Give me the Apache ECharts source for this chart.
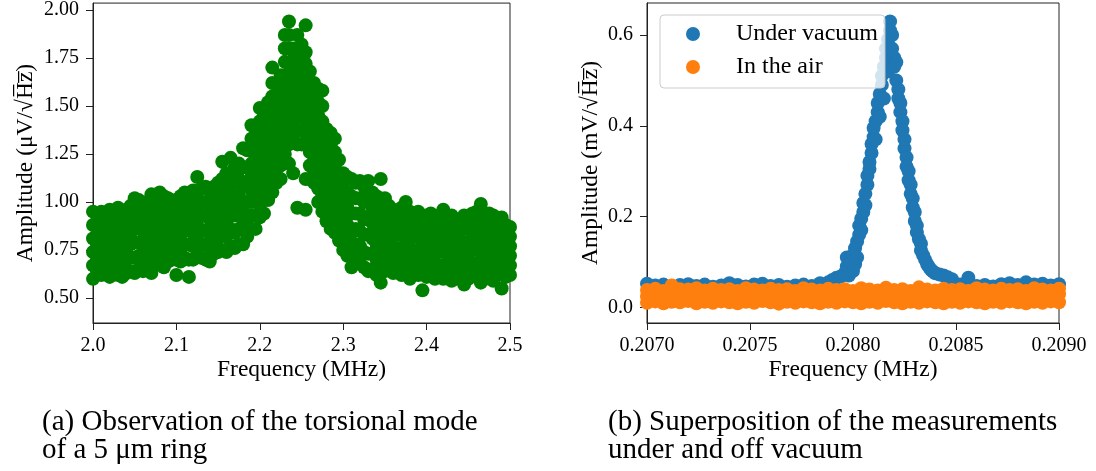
<!DOCTYPE html>
<html>
<head>
<meta charset="utf-8">
<script src="https://cdn.jsdelivr.net/npm/echarts@6/dist/echarts.min.js"></script>
<style>html,body{margin:0;padding:0;background:#fff}#c{width:1096px;height:471px}</style>
</head>
<body>
<div id="c"></div>
<script>
// ---- Panel (a): torsional mode of a 5 um ring, columns [frequency MHz, [amplitudes uV/sqrt(Hz)]]
const ringLow = [
  [2.000,[0.60,0.67,0.74,0.81,0.88,0.95]],[2.005,[0.64,0.71,0.77,0.83,0.88,0.93]],
  [2.010,[0.62,0.69,0.75,0.82,0.88,0.95]],[2.015,[0.63,0.68,0.74,0.80,0.86,0.92]],
  [2.020,[0.61,0.68,0.75,0.82,0.89,0.96]],[2.025,[0.65,0.71,0.76,0.82,0.88,0.94]],
  [2.030,[0.62,0.69,0.76,0.83,0.90,0.97]],[2.035,[0.61,0.68,0.75,0.81,0.88,0.95]],
  [2.040,[0.63,0.70,0.76,0.83,0.89,0.96]],[2.045,[0.64,0.71,0.78,0.84,0.91,0.98]],
  [2.050,[0.63,0.71,0.79,0.86,0.94,1.02]],[2.055,[0.65,0.72,0.79,0.87,0.94,1.01]],
  [2.060,[0.64,0.71,0.78,0.85,0.92,0.99]],[2.065,[0.66,0.73,0.80,0.86,0.93,1.00]],
  [2.070,[0.63,0.71,0.79,0.88,0.96,1.04]],[2.075,[0.67,0.74,0.81,0.88,0.95,1.02]],
  [2.080,[0.68,0.75,0.83,0.90,0.98,1.05]],[2.085,[0.66,0.73,0.81,0.88,0.96,1.03]],
  [2.090,[0.69,0.76,0.82,0.89,0.95,1.02]],[2.095,[0.70,0.76,0.82,0.88,0.94,1.00]],
  [2.100,[0.62,0.70,0.78,0.86,0.93,1.01]],[2.105,[0.69,0.76,0.83,0.89,0.96,1.03]],
  [2.110,[0.71,0.78,0.85,0.91,0.98,1.05]],[2.115,[0.61,0.70,0.78,0.87,0.95,1.04]],
  [2.120,[0.70,0.77,0.84,0.92,0.99,1.06]],[2.125,[0.72,0.80,0.88,0.97,1.05,1.13]],
  [2.130,[0.71,0.78,0.85,0.93,1.00,1.07]],[2.135,[0.70,0.78,0.85,0.93,1.00,1.08]],
  [2.140,[0.69,0.76,0.84,0.91,0.99,1.06]],[2.145,[0.73,0.80,0.87,0.94,1.01,1.08]],
  [2.150,[0.74,0.81,0.88,0.96,1.03,1.10]],[2.155,[0.75,0.84,0.93,1.03,1.12,1.21]],
  [2.160,[0.74,0.82,0.90,0.99,1.07,1.15]],[2.165,[0.77,0.86,0.95,1.05,1.14,1.23]],
  [2.170,[0.76,0.84,0.93,1.01,1.10,1.18]],[2.175,[0.78,0.86,0.95,1.03,1.12,1.20]],
  [2.180,[0.78,0.88,0.98,1.08,1.18,1.28]],[2.185,[0.82,0.91,1.00,1.09,1.18,1.27]]
];
const ringPeak = [
  [2.190,[0.86,0.93,1.00,1.06,1.13,1.20,1.27,1.33,1.40]],
  [2.195,[0.86,0.93,1.00,1.06,1.12,1.19,1.25,1.32,1.38]],
  [2.200,[0.92,0.99,1.06,1.13,1.20,1.28,1.35,1.42,1.49]],
  [2.205,[0.94,1.01,1.07,1.14,1.20,1.26,1.33,1.39,1.45]],
  [2.210,[1.01,1.08,1.14,1.20,1.27,1.33,1.39,1.46,1.52]],
  [2.215,[1.05,1.12,1.19,1.26,1.33,1.40,1.48,1.55,1.62,1.70]],
  [2.220,[1.10,1.17,1.23,1.29,1.36,1.42,1.48,1.55,1.61]],
  [2.225,[1.12,1.19,1.26,1.33,1.39,1.46,1.53,1.60,1.66]],
  [2.230,[1.25,1.32,1.39,1.46,1.53,1.59,1.66,1.73,1.80,1.87]],
  [2.235,[1.20,1.30,1.37,1.44,1.51,1.58,1.65,1.72,1.80,1.87,1.94]],
  [2.240,[1.15,1.32,1.39,1.46,1.53,1.60,1.67,1.74,1.80]],
  [2.245,[0.97,1.30,1.37,1.44,1.51,1.58,1.65,1.72,1.79,1.87]],
  [2.250,[1.30,1.37,1.44,1.50,1.56,1.63,1.69,1.76,1.82]],
  [2.255,[0.96,1.12,1.31,1.38,1.45,1.52,1.59,1.66,1.72,1.78,1.92]],
  [2.260,[1.12,1.19,1.26,1.33,1.40,1.47,1.54,1.61,1.68]],
  [2.265,[1.10,1.17,1.24,1.30,1.36,1.43,1.49,1.56,1.62]],
  [2.270,[1.00,1.07,1.15,1.22,1.30,1.37,1.45,1.52,1.59]],
  [2.275,[0.95,1.03,1.11,1.19,1.26,1.34,1.42,1.50,1.58]],
  [2.280,[0.90,0.97,1.04,1.10,1.17,1.24,1.31,1.38]],
  [2.285,[0.86,0.93,1.00,1.07,1.15,1.22,1.29,1.36]],
  [2.290,[0.84,0.91,0.98,1.05,1.12,1.19,1.26,1.33]],
  [2.295,[0.80,0.87,0.94,1.01,1.08,1.15,1.22]]
];
const ringHigh = [
  [2.300,[0.75,0.83,0.91,0.99,1.07,1.15]],[2.305,[0.72,0.80,0.88,0.97,1.05,1.13]],
  [2.310,[0.66,0.75,0.84,0.94,1.03,1.12]],[2.315,[0.70,0.78,0.86,0.94,1.02,1.10]],
  [2.320,[0.68,0.77,0.85,0.94,1.02,1.11]],[2.325,[0.66,0.74,0.83,0.91,1.00,1.08]],
  [2.330,[0.64,0.73,0.83,0.92,1.02,1.11]],[2.335,[0.65,0.73,0.81,0.89,0.97,1.05]],
  [2.340,[0.62,0.70,0.78,0.87,0.95,1.03]],[2.345,[0.58,0.66,0.74,0.83,0.91,1.00,1.12]],
  [2.350,[0.64,0.72,0.79,0.87,0.94,1.02]],[2.355,[0.66,0.72,0.79,0.85,0.92,0.98]],
  [2.360,[0.63,0.70,0.76,0.83,0.89,0.96]],[2.365,[0.64,0.70,0.76,0.83,0.89,0.95]],
  [2.370,[0.62,0.69,0.76,0.83,0.90,0.97]],[2.375,[0.64,0.71,0.78,0.86,0.93,1.00]],
  [2.380,[0.60,0.67,0.74,0.81,0.88,0.95]],[2.385,[0.63,0.69,0.75,0.82,0.88,0.94]],
  [2.390,[0.62,0.69,0.75,0.82,0.88,0.95]],[2.395,[0.54,0.63,0.70,0.77,0.85,0.92]],
  [2.400,[0.61,0.67,0.74,0.80,0.87,0.93]],[2.405,[0.62,0.68,0.75,0.81,0.88,0.94]],
  [2.410,[0.60,0.66,0.73,0.79,0.86,0.92]],[2.415,[0.61,0.67,0.74,0.80,0.87,0.93]],
  [2.420,[0.60,0.67,0.74,0.82,0.89,0.96]],[2.425,[0.62,0.68,0.74,0.80,0.86,0.92]],
  [2.430,[0.59,0.66,0.73,0.79,0.86,0.93]],[2.435,[0.60,0.66,0.72,0.78,0.84,0.90]],
  [2.440,[0.61,0.67,0.73,0.79,0.85,0.91]],[2.445,[0.57,0.64,0.71,0.79,0.86,0.93]],
  [2.450,[0.60,0.66,0.73,0.79,0.86,0.92]],[2.455,[0.62,0.68,0.75,0.81,0.88,0.94]],
  [2.460,[0.61,0.68,0.75,0.81,0.88,0.95]],[2.465,[0.58,0.66,0.74,0.83,0.91,0.99]],
  [2.470,[0.60,0.66,0.73,0.79,0.86,0.92]],[2.475,[0.61,0.68,0.74,0.81,0.87,0.94]],
  [2.480,[0.59,0.66,0.73,0.79,0.86,0.93]],[2.485,[0.62,0.68,0.73,0.79,0.84,0.90]],
  [2.490,[0.55,0.63,0.70,0.77,0.85,0.92]],[2.495,[0.61,0.66,0.72,0.77,0.83,0.88]],
  [2.500,[0.62,0.67,0.72,0.77,0.82,0.87]]
];

// ---- Panel (b): under vacuum [frequency MHz, amplitude mV/sqrt(Hz)]
const vacuumBase = [
  [0.20700,0.052],[0.20704,0.048],[0.20708,0.050],[0.20712,0.046],[0.20716,0.049],[0.20720,0.051],
  [0.20724,0.047],[0.20728,0.050],[0.20732,0.045],[0.20736,0.048],[0.20740,0.053],[0.20744,0.049],
  [0.20748,0.046],[0.20752,0.050],[0.20756,0.052],[0.20760,0.047],[0.20764,0.049],[0.20768,0.045],
  [0.20772,0.048],[0.20776,0.050],[0.20780,0.047],[0.20784,0.053],[0.20788,0.055],
  [0.20852,0.050],[0.20856,0.065],[0.20860,0.047],[0.20864,0.049],[0.20868,0.046],[0.20872,0.051],
  [0.20876,0.053],[0.20880,0.049],[0.20884,0.055],[0.20888,0.050],[0.20892,0.052],[0.20896,0.048],
  [0.20900,0.051]
];
const vacuumRise = [
  [0.20790,0.060],[0.20792,0.065],[0.20794,0.068],[0.20796,0.075],[0.20797,0.090],[0.20797,0.110],
  [0.20798,0.070],[0.20799,0.100],[0.20800,0.080],[0.20800,0.115],[0.20801,0.130],[0.20801,0.095],
  [0.20802,0.145],[0.20802,0.110],[0.20803,0.160],[0.20803,0.180],[0.20804,0.195],[0.20804,0.170],
  [0.20805,0.210],[0.20805,0.230],[0.20806,0.250],[0.20806,0.225],[0.20807,0.270],[0.20807,0.290],
  [0.20808,0.305],[0.20808,0.320],[0.20809,0.340],[0.20809,0.360],[0.20810,0.375],[0.20810,0.395],
  [0.20811,0.410],[0.20811,0.370],[0.20812,0.430],[0.20812,0.450],[0.20813,0.470],[0.20813,0.420],
  [0.20814,0.490],[0.20814,0.510],[0.20815,0.530],[0.20815,0.460],[0.20816,0.550],[0.20816,0.570],
  [0.20817,0.590],[0.20817,0.520],[0.20818,0.610],[0.20818,0.630],[0.20818,0.560]
];
const vacuumFall = [
  [0.20819,0.600],[0.20819,0.570],[0.20820,0.550],[0.20820,0.530],[0.20821,0.540],[0.20821,0.500],
  [0.20822,0.480],[0.20822,0.460],[0.20823,0.450],[0.20823,0.430],[0.20824,0.410],[0.20824,0.390],
  [0.20825,0.370],[0.20825,0.350],[0.20826,0.330],[0.20826,0.310],[0.20827,0.300],[0.20827,0.280],
  [0.20828,0.270],[0.20828,0.250],[0.20829,0.240],[0.20829,0.220],[0.20830,0.210],[0.20830,0.190],
  [0.20831,0.180],[0.20831,0.165],[0.20832,0.150],[0.20833,0.140],[0.20833,0.125],[0.20834,0.115],
  [0.20835,0.105],[0.20836,0.095],[0.20837,0.088],[0.20838,0.082],[0.20839,0.078],[0.20840,0.075],
  [0.20842,0.072],[0.20844,0.070],[0.20846,0.066],[0.20848,0.062]
];
// ---- Panel (b): in the air, columns [frequency MHz, [amplitudes]]
const airCols = [
  [0.20700,[0.010,0.024,0.038]],[0.20704,[0.013,0.027,0.041]],[0.20708,[0.009,0.022,0.036]],
  [0.20712,[0.012,0.030,0.048]],[0.20716,[0.011,0.025,0.040]],[0.20720,[0.014,0.028,0.039]],
  [0.20724,[0.009,0.023,0.042]],[0.20728,[0.012,0.026,0.037]],[0.20732,[0.010,0.029,0.041]],
  [0.20736,[0.013,0.024,0.038]],[0.20740,[0.011,0.027,0.040]],[0.20744,[0.009,0.025,0.036]],
  [0.20748,[0.012,0.028,0.042]],[0.20752,[0.010,0.023,0.039]],[0.20756,[0.014,0.026,0.037]],
  [0.20760,[0.011,0.029,0.041]],[0.20764,[0.008,0.024,0.038]],[0.20768,[0.012,0.027,0.040]],
  [0.20772,[0.010,0.025,0.036]],[0.20776,[0.013,0.028,0.042]],[0.20780,[0.011,0.023,0.039]],
  [0.20784,[0.009,0.026,0.037]],[0.20788,[0.012,0.029,0.041]],[0.20792,[0.010,0.024,0.038]],
  [0.20796,[0.013,0.027,0.040]],[0.20800,[0.011,0.025,0.036]],[0.20804,[0.009,0.028,0.042]],
  [0.20808,[0.012,0.023,0.039]],[0.20812,[0.010,0.026,0.037]],[0.20816,[0.014,0.029,0.043]],
  [0.20820,[0.011,0.024,0.038]],[0.20824,[0.009,0.027,0.040]],[0.20828,[0.012,0.025,0.036]],
  [0.20832,[0.010,0.028,0.044]],[0.20836,[0.013,0.023,0.039]],[0.20840,[0.011,0.026,0.037]],
  [0.20844,[0.009,0.029,0.041]],[0.20848,[0.012,0.024,0.038]],[0.20852,[0.010,0.027,0.040]],
  [0.20856,[0.013,0.025,0.036]],[0.20860,[0.011,0.028,0.042]],[0.20864,[0.009,0.023,0.039]],
  [0.20868,[0.012,0.026,0.037]],[0.20872,[0.010,0.029,0.041]],[0.20876,[0.013,0.024,0.038]],
  [0.20880,[0.011,0.027,0.040]],[0.20884,[0.009,0.025,0.036]],[0.20888,[0.012,0.028,0.042]],
  [0.20892,[0.010,0.023,0.039]],[0.20896,[0.013,0.026,0.037]],[0.20900,[0.011,0.029,0.041]]
];

// ---- Tick labels and texts
const xTicksA = [2.0, 2.1, 2.2, 2.3, 2.4, 2.5];
const yTicksA = [0.50, 0.75, 1.00, 1.25, 1.50, 1.75, 2.00];
const xTicksB = [0.2070, 0.2075, 0.2080, 0.2085, 0.2090];
const yTicksB = [0.0, 0.2, 0.4, 0.6];
const seriesNames = ['Under vacuum', 'In the air'];
const yNameA = 'Amplitude (\u03bcV/\u221aH\u0305z\u0305)';
const yNameB = 'Amplitude (mV/\u221aH\u0305z\u0305)';
const captionA = '(a) Observation of the torsional mode\nof a 5 \u03bcm ring';
const captionB = '(b) Superposition of the measurements\nunder and off vacuum';

const flatten = cols => cols.flatMap(([x, ys]) => ys.map(y => [x, y]));
const ringData = flatten(ringLow).concat(flatten(ringPeak), flatten(ringHigh));
const vacuumData = vacuumBase.concat(vacuumRise, vacuumFall);
const airData = flatten(airCols);

const FONT = '"Liberation Serif", "Times New Roman", serif';
const INK = '#000';
const SPINE = '#222';

function xAxisCfg(gi, min, max, ticks, dec) {
  return {
    type: 'value', gridIndex: gi, min: min, max: max,
    name: 'Frequency (MHz)', nameLocation: 'middle', nameGap: 35, nameMoveOverlap: false,
    nameTextStyle: { fontFamily: FONT, fontSize: 23.5, color: INK },
    axisLine: { show: true, onZero: false, lineStyle: { color: SPINE, width: 1 } },
    axisTick: { show: true, inside: false, length: 7, lineStyle: { color: SPINE }, customValues: ticks },
    axisLabel: { customValues: ticks, margin: 13, fontFamily: FONT, fontSize: 20, color: INK,
                 formatter: v => Number(v).toFixed(dec) },
    splitLine: { show: false }
  };
}
function yAxisCfg(gi, min, max, ticks, dec, name, gap) {
  return {
    type: 'value', gridIndex: gi, min: min, max: max,
    name: name, nameLocation: 'middle', nameGap: gap, nameRotate: 90,
    nameTextStyle: { fontFamily: FONT, fontSize: 23.5, color: INK },
    axisLine: { show: true, onZero: false, lineStyle: { color: SPINE, width: 1 } },
    axisTick: { show: true, inside: false, length: 7, lineStyle: { color: SPINE }, customValues: ticks },
    axisLabel: { customValues: ticks, margin: 14, fontFamily: FONT, fontSize: 20, color: INK,
                 formatter: v => Number(v).toFixed(dec) },
    splitLine: { show: false }
  };
}

const chart = echarts.init(document.getElementById('c'), null, { renderer: 'canvas' });
chart.setOption({
  animation: false,
  backgroundColor: '#fff',
  grid: [
    { left: 93, top: 3, width: 417, height: 320, show: true, borderColor: SPINE, borderWidth: 1, backgroundColor: 'transparent' },
    { left: 647, top: 3, width: 412, height: 320, show: true, borderColor: SPINE, borderWidth: 1, backgroundColor: 'transparent' }
  ],
  xAxis: [
    xAxisCfg(0, 2.0, 2.5, xTicksA, 1),
    xAxisCfg(1, 0.2070, 0.2090, xTicksB, 4)
  ],
  yAxis: [
    yAxisCfg(0, 0.37, 2.036, yTicksA, 2, yNameA, 55),
    yAxisCfg(1, -0.0346, 0.6705, yTicksB, 1, yNameB, 44)
  ],
  legend: {
    data: seriesNames,
    orient: 'vertical', left: 660, top: 15,
    icon: 'circle', itemWidth: 14, itemHeight: 14, itemGap: 9,
    padding: [7, 7, 9, 26],
    backgroundColor: 'rgba(255,255,255,0.8)', borderColor: '#cccccc', borderWidth: 1, borderRadius: 4,
    textStyle: { fontFamily: FONT, fontSize: 24, color: INK, padding: [0, 0, 0, 31], lineHeight: 24 },
    selectedMode: false, z: 10
  },
  series: [
    { type: 'scatter', xAxisIndex: 0, yAxisIndex: 0, data: ringData, symbolSize: 14,
      itemStyle: { color: '#008000', opacity: 1 }, silent: true },
    { type: 'scatter', name: seriesNames[0], xAxisIndex: 1, yAxisIndex: 1, data: vacuumData, symbolSize: 14,
      itemStyle: { color: '#1f77b4', opacity: 1 }, silent: true },
    { type: 'scatter', name: seriesNames[1], xAxisIndex: 1, yAxisIndex: 1, data: airData, symbolSize: 14,
      itemStyle: { color: '#ff7f0e', opacity: 1 }, silent: true }
  ],
  graphic: [
    { type: 'text', left: 42, top: 408, style: { text: captionA, font: '29px ' + FONT, fill: INK, lineHeight: 28 } },
    { type: 'text', left: 608, top: 408, style: { text: captionB, font: '29px ' + FONT, fill: INK, lineHeight: 28 } }
  ]
});
</script>
</body>
</html>
